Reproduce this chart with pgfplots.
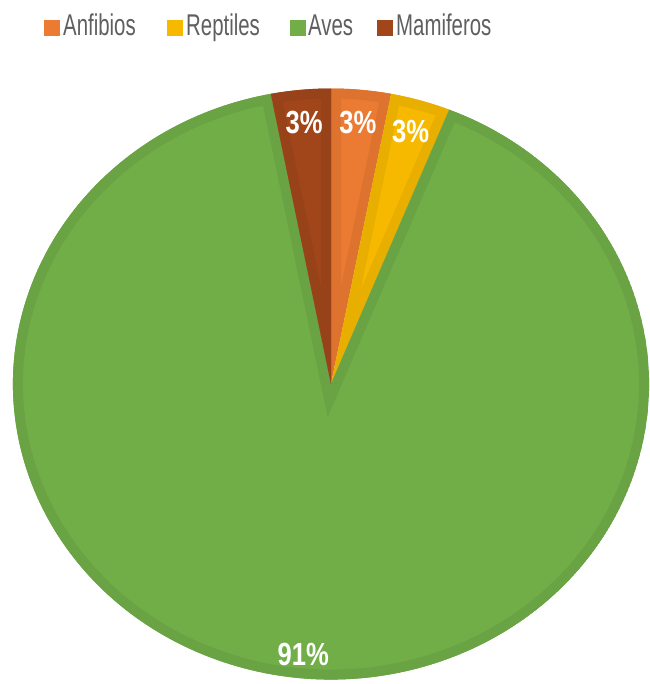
\documentclass[border=0pt]{standalone}
\usepackage{fontspec}
\setmainfont{Liberation Sans}
\usepackage{graphicx}
\usepackage{pgfplots}
\usepackage{pgfplotstable}
\pgfplotsset{compat=1.18}
\definecolor{anf}{HTML}{EB7A32}
\definecolor{rep}{HTML}{F7B900}
\definecolor{ave}{HTML}{71AE48}
\definecolor{mam}{HTML}{A1461A}
\definecolor{legtext}{HTML}{5F5F5F}

\pgfplotstableread{
name value col lr
Anfibios 1 anf 0.89
Reptiles 1 rep 0.89
Aves 30 ave 0.92
Mamiferos 1 mam 0.89
}\piedata

\begin{document}
\begin{tikzpicture}
\useasboundingbox (0,0) rectangle (649pt,-684pt);
% totals and angles from the table
\gdef\tot{0}
\foreach \i in {0,...,3}{%
  \pgfplotstablegetelem{\i}{value}\of\piedata
  \pgfmathsetmacro\t{\tot+\pgfplotsretval}\global\let\tot\t}
\gdef\cum{0}
\foreach \i in {0,...,3}{%
  \pgfplotstablegetelem{\i}{value}\of\piedata \let\v\pgfplotsretval
  \pgfmathsetmacro\ts{90-\cum*360/\tot}
  \pgfmathsetmacro\te{90-(\cum+\v)*360/\tot}
  \pgfmathsetmacro\tm{(\ts+\te)/2}
  \pgfmathsetmacro\nc{\cum+\v}\global\let\cum\nc
  \pgfmathtruncatemacro\pc{round(100*\v/\tot)}
  \expandafter\xdef\csname ts\i\endcsname{\ts}
  \expandafter\xdef\csname te\i\endcsname{\te}
  \expandafter\xdef\csname tm\i\endcsname{\tm}
  \expandafter\xdef\csname pc\i\endcsname{\pc}
  \pgfplotstablegetelem{\i}{col}\of\piedata
  \expandafter\xdef\csname col\i\endcsname{\pgfplotsretval}
  \pgfplotstablegetelem{\i}{lr}\of\piedata
  \expandafter\xdef\csname lr\i\endcsname{\pgfplotsretval}
}
\begin{axis}[at={(331pt,-384pt)}, anchor=center, scale only axis,
  width=636pt, height=591pt, xmin=-1, xmax=1, ymin=-1, ymax=1,
  hide axis, clip=false]
\pgfplotsinvokeforeach{0,...,3}{%
\pgfplotsextra{%
  \def\slicepath{(axis cs:0,0) -- (axis cs:{cos(\csname ts#1\endcsname)},{sin(\csname ts#1\endcsname)})
     arc[start angle=\csname ts#1\endcsname, end angle=\csname te#1\endcsname, x radius=318pt, y radius=295.5pt] -- cycle}
  \begin{scope}
    \expandafter\clip\slicepath;
    \expandafter\fill\expandafter[\csname col#1\endcsname]\slicepath;
    \expandafter\draw\expandafter[line width=20pt, \csname col#1\endcsname!94!black, line join=miter]\slicepath;
  \end{scope}
}}
\pgfplotsinvokeforeach{0,...,3}{%
\pgfplotsextra{%
  \node[text=white, font=\bfseries\fontsize{32}{32}\selectfont, inner sep=0pt]
    at (axis cs:{\csname lr#1\endcsname*cos(\csname tm#1\endcsname)},{\csname lr#1\endcsname*sin(\csname tm#1\endcsname)})
    {\scalebox{0.8}[1]{\csname pc#1\endcsname\%}};
}}
\end{axis}
% legend
\fill[anf] (44pt,-20pt) rectangle (60pt,-36pt);
\node[anchor=base west, inner sep=0pt, text=legtext, font=\fontsize{30}{30}\selectfont] at (63pt,-36pt) {\scalebox{0.68}[1]{Anfibios}};
\fill[rep] (167pt,-20pt) rectangle (183pt,-36pt);
\node[anchor=base west, inner sep=0pt, text=legtext, font=\fontsize{30}{30}\selectfont] at (186pt,-36pt) {\scalebox{0.68}[1]{Reptiles}};
\fill[ave] (290pt,-20pt) rectangle (306pt,-36pt);
\node[anchor=base west, inner sep=0pt, text=legtext, font=\fontsize{30}{30}\selectfont] at (308pt,-36pt) {\scalebox{0.68}[1]{Aves}};
\fill[mam] (377pt,-20pt) rectangle (393pt,-36pt);
\node[anchor=base west, inner sep=0pt, text=legtext, font=\fontsize{30}{30}\selectfont] at (396pt,-36pt) {\scalebox{0.68}[1]{Mamiferos}};
\end{tikzpicture}
\end{document}
